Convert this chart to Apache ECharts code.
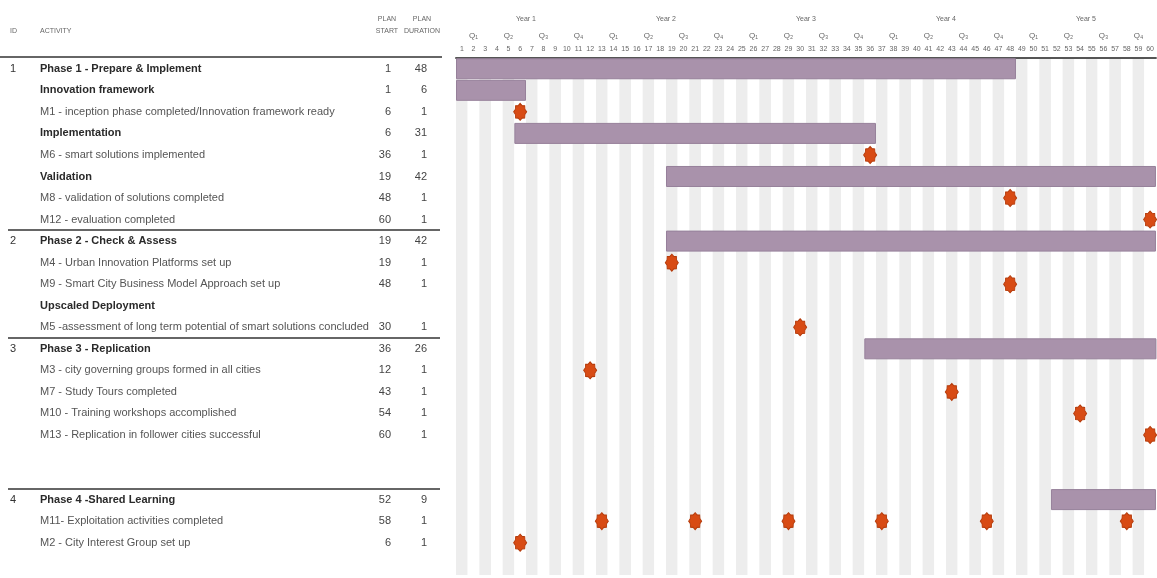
<!DOCTYPE html>
<html><head><meta charset="utf-8">
<script src="https://cdn.jsdelivr.net/npm/echarts@6/dist/echarts.min.js"></script>
<style>html,body{margin:0;padding:0;background:#fff}#c{width:1157px;height:578px}</style>
</head><body><div id="c"></div>
<script>
const ids = ['1','','','','','','','','2','','','','','3','','','','','','','4','','',''];
const activities = [
 'Phase 1 - Prepare & Implement',
 'Innovation framework',
 'M1 - inception phase completed/Innovation framework ready',
 'Implementation',
 'M6 - smart solutions implemented',
 'Validation',
 'M8 - validation of solutions completed',
 'M12 - evaluation completed',
 'Phase 2 - Check & Assess',
 'M4 - Urban Innovation Platforms set up',
 'M9 - Smart City Business Model Approach set up',
 'Upscaled Deployment',
 'M5 -assessment of long term potential of smart solutions concluded',
 'Phase 3 - Replication',
 'M3 - city governing groups formed in all cities',
 'M7 - Study Tours completed',
 'M10 - Training workshops accomplished',
 'M13 - Replication in follower cities successful',
 '', '',
 'Phase 4 -Shared Learning',
 'M11- Exploitation activities completed',
 'M2 - City Interest Group set up',
 ''
];
const rowKinds = ['phase','group','ms','group','ms','group','ms','ms','phase','ms','ms','group','ms','phase','ms','ms','ms','ms','blank','blank','phase','ms','ms','blank'];
const planStart    = [1,1,6,6,36,19,48,60,19,19,48,null,30,36,12,43,54,60,null,null,52,58,6,null];
const planDuration = [48,6,1,31,1,42,1,1,42,1,1,null,1,26,1,1,1,1,null,null,9,1,1,null];
const m11Markers = [13,21,29,37,46,58];
const years = ['Year 1','Year 2','Year 3','Year 4','Year 5'];
const quarters = [];
for (let y = 0; y < 5; y++) ['Q\u2081','Q\u2082','Q\u2083','Q\u2084'].forEach(q => quarters.push(q));
const months = [];
for (let m = 1; m <= 60; m++) months.push(String(m));

const rowKeys = activities.map((a, i) => String(i));
const FONT = '"Liberation Sans Narrow", "Liberation Sans", Lato, sans-serif';

// bars
const barBase = [], barLen = [];
rowKinds.forEach((k, i) => {
  if ((k === 'phase' || k === 'group') && planDuration[i] != null) {
    barBase.push(planStart[i] - 1); barLen.push(planDuration[i]);
  } else { barBase.push('-'); barLen.push('-'); }
});
// milestones
const msPoints = [];
rowKinds.forEach((k, i) => {
  if (k !== 'ms') return;
  if (activities[i].startsWith('M11')) m11Markers.forEach(m => msPoints.push([m - 0.5, i]));
  else msPoints.push([planStart[i] - 0.5, i]);
});

// 8-point star symbol
let p = 'path://';
for (let i = 0; i < 16; i++) {
  const a = i * Math.PI / 8 - Math.PI / 2, r = i % 2 ? 0.8 : 1;
  p += (i ? 'L' : 'M') + (Math.cos(a) * r).toFixed(3) + ' ' + (Math.sin(a) * r).toFixed(3);
}
p += 'Z';

const chart = echarts.init(document.getElementById('c'));
const hdr = {fontSize: 7, fill: '#666', fontFamily: FONT};
chart.setOption({
  animation: false,
  grid: {left: 456, right: 0, top: 58, bottom: 3},
  xAxis: [
    {type: 'value', min: 0, max: 60, show: false},
    {type: 'category', data: months, position: 'top', boundaryGap: true,
     axisLine: {show: true, lineStyle: {color: '#555', width: 2}}, axisTick: {show: false},
     axisLabel: {interval: 0, fontSize: 7, color: '#666', margin: 5, fontFamily: FONT},
     splitArea: {show: true, interval: 0, areaStyle: {color: ['#ededed', '#ffffff']}},
     splitLine: {show: false}},
    {type: 'category', data: quarters, position: 'top', offset: 13, boundaryGap: true,
     axisLine: {show: false}, axisTick: {show: false},
     axisLabel: {interval: 0, fontSize: 8, color: '#666', margin: 5, fontFamily: FONT}},
    {type: 'category', data: years, position: 'top', offset: 30, boundaryGap: true,
     axisLine: {show: false}, axisTick: {show: false},
     axisLabel: {interval: 0, fontSize: 7, color: '#666', margin: 5, fontFamily: FONT}}
  ],
  yAxis: {
    type: 'category', data: rowKeys, inverse: true,
    axisLine: {show: false}, axisTick: {show: false},
    splitLine: {show: true, interval: 0, lineStyle: {color: '#ffffff', width: 1}},
    axisLabel: {
      interval: 0, align: 'left', margin: 446,
      formatter: (v) => {
        const i = +v, k = rowKinds[i];
        if (k === 'blank') return '';
        const b = (k === 'phase' || k === 'group');
        const st = planStart[i] == null ? '' : planStart[i];
        const du = planDuration[i] == null ? '' : planDuration[i];
        return '{id|' + ids[i] + '}{' + (b ? 'actB' : 'act') + '|' + activities[i] + '}{st|' + st + '}{du|' + du + '}';
      },
      rich: {
        id: {width: 30, fontSize: 11, color: '#333', fontFamily: FONT},
        actB: {width: 325, fontSize: 11, fontWeight: 'bold', color: '#2a2a2a', fontFamily: FONT},
        act: {width: 325, fontSize: 11, color: '#555', fontFamily: FONT},
        st: {width: 26, align: 'right', fontSize: 11, color: '#444', fontFamily: FONT},
        du: {width: 36, align: 'right', fontSize: 11, color: '#444', fontFamily: FONT}
      }
    }
  },
  series: [
    {type: 'bar', xAxisIndex: 0, stack: 'g', data: barBase, barWidth: 21,
     itemStyle: {color: 'transparent'}, silent: true},
    {type: 'bar', xAxisIndex: 0, stack: 'g', data: barLen, barWidth: 21,
     itemStyle: {color: '#a992ab', borderColor: '#96809a', borderWidth: 1}},
    {type: 'scatter', xAxisIndex: 0, data: msPoints, symbol: p, symbolSize: [13, 17], z: 5,
     itemStyle: {color: '#d84b14', borderColor: '#b53c0c', borderWidth: 1, opacity: 1}}
  ]
});

// table header + rules tied to rows
const rowY = i => chart.convertToPixel({yAxisIndex: 0}, String(i));
const between = i => (rowY(i - 1) + rowY(i)) / 2;
const g = [
  {type: 'text', left: 10, top: 28, style: Object.assign({text: 'ID'}, hdr)},
  {type: 'text', left: 40, top: 28, style: Object.assign({text: 'ACTIVITY'}, hdr)},
  {type: 'text', x: 387, y: 16, style: Object.assign({text: 'PLAN', textAlign: 'center'}, hdr)},
  {type: 'text', x: 387, y: 28, style: Object.assign({text: 'START', textAlign: 'center'}, hdr)},
  {type: 'text', x: 422, y: 16, style: Object.assign({text: 'PLAN', textAlign: 'center'}, hdr)},
  {type: 'text', x: 422, y: 28, style: Object.assign({text: 'DURATION', textAlign: 'center'}, hdr)},
  {type: 'line', shape: {x1: 0, y1: 57, x2: 442, y2: 57}, style: {stroke: '#666', lineWidth: 2}}
];
rowKinds.forEach((k, i) => {
  if (k === 'phase' && i > 0) {
    const y = Math.round(between(i));
    g.push({type: 'line', shape: {x1: 8, y1: y, x2: 440, y2: y}, style: {stroke: '#666', lineWidth: 2}});
  }
});
chart.setOption({graphic: g});
</script></body></html>
